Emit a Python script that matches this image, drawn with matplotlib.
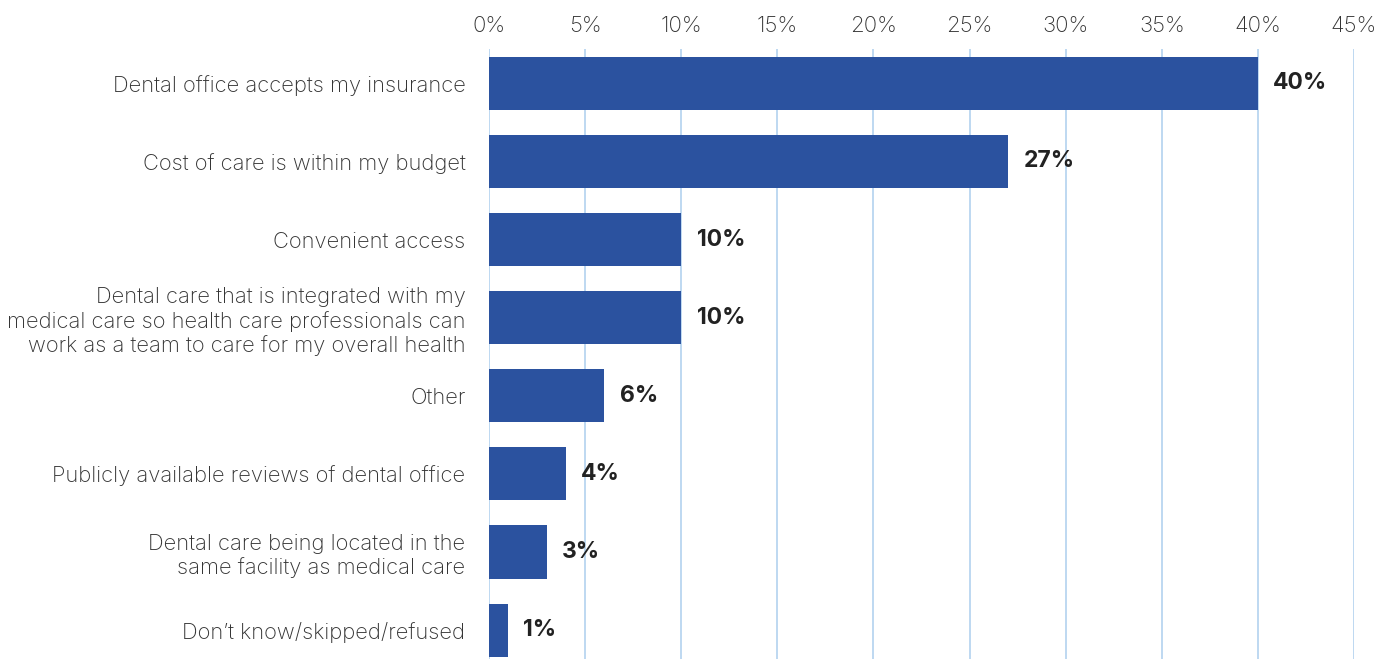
import matplotlib
matplotlib.use("Agg")
import matplotlib.pyplot as plt
from matplotlib.ticker import FuncFormatter

categories = [
    "Dental office accepts my insurance",
    "Cost of care is within my budget",
    "Convenient access",
    "Dental care that is integrated with my\nmedical care so health care professionals can\nwork as a team to care for my overall health",
    "Other",
    "Publicly available reviews of dental office",
    "Dental care being located in the\nsame facility as medical care",
    "Don\u2019t know/skipped/refused",
]
values = [40, 27, 10, 10, 6, 4, 3, 1]
ticks = [0, 5, 10, 15, 20, 25, 30, 35, 40, 45]

plt.rcParams['font.family'] = ['Inter', 'DejaVu Sans']

W, H = 1378, 659
fig = plt.figure(figsize=(W / 100, H / 100), dpi=100)
ax = fig.add_axes([489 / W, 0, (1354 - 489) / W, 1 - 49 / H])

y = list(range(len(categories)))
ax.barh(y, values, height=0.68, color="#2B529F", zorder=3)
ax.set_xlim(0, 45)
ax.set_ylim(7.37, -0.44)
ax.set_xticks(ticks)
ax.xaxis.set_major_formatter(FuncFormatter(lambda v, p: f"{v:.0f}%"))
ax.xaxis.tick_top()
ax.tick_params(axis="x", length=0, pad=9, labelsize=16, labelcolor="#333333")
ax.set_yticks(y)
ax.set_yticklabels(categories, fontsize=15.8, color="#333333", linespacing=1.22)
ax.tick_params(axis="y", length=0, pad=17)
for lbl in ax.get_xticklabels() + ax.get_yticklabels():
    lbl.set_fontweight("light")
ax.grid(axis="x", color="#B9D6F0", linewidth=1.3, zorder=0)
ax.grid(axis="y", visible=False)
for s in ax.spines.values():
    s.set_visible(False)

for yi, v in zip(y, values):
    ax.annotate(f"{v}%", (v, yi), xytext=(11, 0), textcoords="offset points",
                va="center", ha="left", fontsize=16.5, fontweight="bold", color="#222222")

fig.savefig("out.png", dpi=100)
